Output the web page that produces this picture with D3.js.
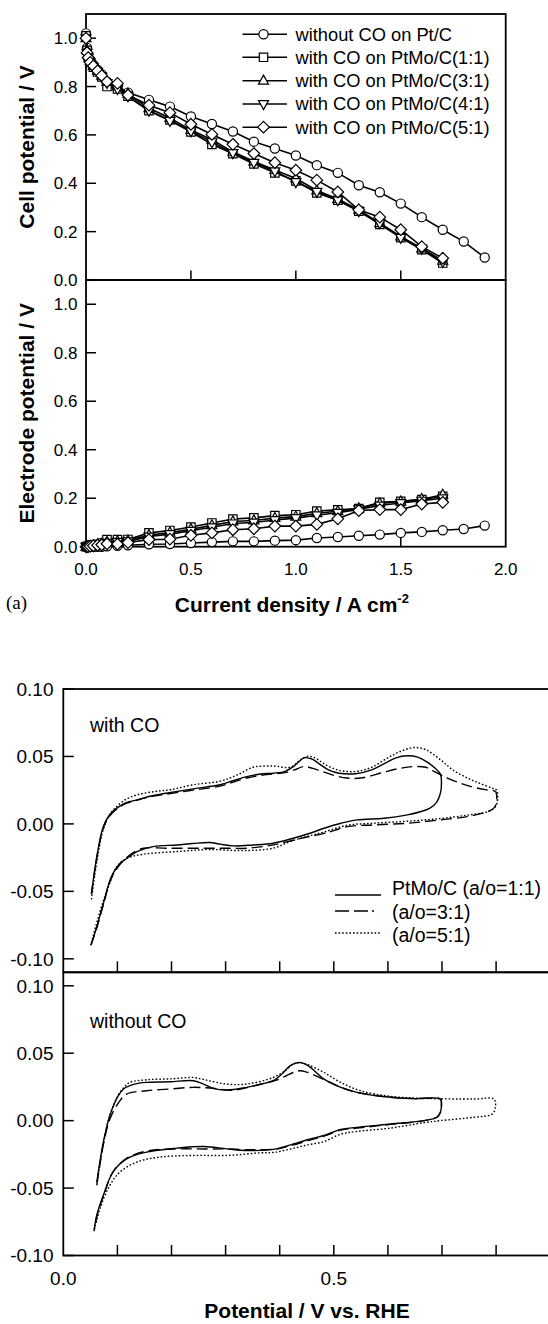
<!DOCTYPE html>
<html>
<head>
<meta charset="utf-8">
<script src="https://cdn.jsdelivr.net/npm/d3@7"></script>
<style>
  html,body{margin:0;padding:0;background:#fff;}
  svg{display:block;}
  text{font-family:"Liberation Sans",Arial,Helvetica,sans-serif;fill:#000;}
</style>
</head>
<body>
<svg id="chart" width="548" height="1324"></svg>
<script>
// ---------------- DATA : panel (a) polarization ----------------
const seriesNames = ["without CO on Pt/C","with CO on PtMo/C(1:1)","with CO on PtMo/C(3:1)","with CO on PtMo/C(4:1)","with CO on PtMo/C(5:1)"];
const seriesMarkers = ["circle","square","triangle","triangleDown","diamond"];
const currentPtC  = [0,0.005,0.01,0.02,0.035,0.055,0.075,0.1,0.15,0.2,0.3,0.4,0.5,0.6,0.7,0.8,0.9,1.0,1.1,1.2,1.3,1.4,1.5,1.6,1.7,1.8,1.9];
const currentPtMo = [0,0.005,0.01,0.02,0.035,0.055,0.075,0.1,0.15,0.2,0.3,0.4,0.5,0.6,0.7,0.8,0.9,1.0,1.1,1.2,1.3,1.4,1.5,1.6,1.7];

const cellPtC = [1.02,0.96,0.93,0.91,0.89,0.87,0.85,0.82,0.80,0.775,0.745,0.717,0.676,0.645,0.614,0.572,0.544,0.515,0.475,0.443,0.392,0.363,0.316,0.26,0.208,0.159,0.093];
const cell11  = [1.01,0.95,0.92,0.90,0.88,0.86,0.84,0.80,0.79,0.76,0.70,0.662,0.612,0.561,0.522,0.48,0.443,0.41,0.36,0.33,0.285,0.23,0.175,0.125,0.07];
const cell31  = [1.0,0.95,0.93,0.905,0.885,0.865,0.845,0.82,0.80,0.77,0.71,0.67,0.62,0.58,0.53,0.49,0.455,0.42,0.37,0.335,0.29,0.235,0.18,0.13,0.08];
const cell41  = [1.0,0.94,0.92,0.90,0.88,0.86,0.84,0.815,0.79,0.76,0.70,0.658,0.615,0.57,0.525,0.485,0.45,0.405,0.365,0.33,0.285,0.235,0.175,0.13,0.075];
const cell51  = [1.0,0.94,0.92,0.90,0.885,0.865,0.845,0.82,0.813,0.765,0.723,0.692,0.644,0.602,0.561,0.523,0.485,0.454,0.413,0.364,0.29,0.26,0.208,0.138,0.09];

const elecPtC = [0,0,0,0,0,0,0,0.002,0.004,0.006,0.01,0.011,0.015,0.019,0.022,0.022,0.025,0.027,0.036,0.04,0.045,0.05,0.057,0.061,0.068,0.073,0.087];
const elec11  = [0,0.001,0.002,0.004,0.007,0.01,0.015,0.029,0.029,0.03,0.057,0.067,0.081,0.098,0.114,0.119,0.128,0.132,0.147,0.152,0.157,0.183,0.187,0.194,0.208];
const elec31  = [0,0,0.001,0.003,0.005,0.008,0.012,0.02,0.022,0.025,0.048,0.058,0.072,0.088,0.104,0.108,0.118,0.124,0.138,0.146,0.158,0.178,0.186,0.196,0.214];
const elec41  = [0,0,0.001,0.002,0.004,0.007,0.01,0.016,0.02,0.022,0.042,0.052,0.066,0.08,0.096,0.1,0.11,0.118,0.13,0.14,0.154,0.17,0.18,0.19,0.2];
const elec51  = [0,0,0,0.002,0.004,0.006,0.008,0.012,0.011,0.017,0.029,0.031,0.047,0.057,0.07,0.074,0.085,0.085,0.092,0.115,0.149,0.153,0.153,0.176,0.183];

const aXTicks = [0,0.5,1.0,1.5,2.0];
const aXTickLabels = ["0.0","0.5","1.0","1.5","2.0"];
const aYTicks = [0,0.2,0.4,0.6,0.8,1.0];
const aYTickLabels = ["0.0","0.2","0.4","0.6","0.8","1.0"];

// ---------------- DATA : panel (b) cyclic voltammograms [V, I] ----------------
const cvLegend = ["PtMo/C (a/o=1:1)","(a/o=3:1)","(a/o=5:1)"];
const cvCO_11 = [[0.052,-0.052],[0.062,-0.024],[0.074,-0.002],[0.086,0.007],[0.099,0.0117],[0.115,0.0155],[0.136,0.0178],[0.16,0.0205],[0.19,0.0227],[0.24,0.026],[0.29,0.029],[0.314,0.032],[0.339,0.035],[0.365,0.037],[0.388,0.0376],[0.41,0.039],[0.427,0.043],[0.445,0.049],[0.46,0.048],[0.475,0.044],[0.49,0.040],[0.51,0.0375],[0.54,0.0372],[0.57,0.040],[0.595,0.045],[0.615,0.049],[0.636,0.0505],[0.655,0.0495],[0.672,0.046],[0.688,0.041],[0.697,0.037],[0.699,0.030],[0.697,0.0227],[0.69,0.016],[0.677,0.0115],[0.66,0.009],[0.636,0.0067],[0.593,0.0042],[0.543,0.003],[0.513,0.0005],[0.482,-0.0032],[0.456,-0.0069],[0.425,-0.0106],[0.388,-0.0143],[0.351,-0.0156],[0.314,-0.0163],[0.29,-0.015],[0.271,-0.0138],[0.24,-0.0145],[0.21,-0.0156],[0.166,-0.0168],[0.136,-0.0205],[0.116,-0.026],[0.105,-0.0291],[0.089,-0.039],[0.074,-0.059],[0.062,-0.076],[0.051,-0.09]];
const cvCO_31 = [[0.052,-0.052],[0.062,-0.025],[0.074,-0.003],[0.086,0.006],[0.099,0.011],[0.115,0.015],[0.136,0.0175],[0.16,0.020],[0.19,0.022],[0.24,0.025],[0.29,0.028],[0.314,0.031],[0.339,0.034],[0.365,0.036],[0.388,0.037],[0.41,0.038],[0.427,0.040],[0.445,0.0425],[0.47,0.040],[0.5,0.036],[0.525,0.034],[0.55,0.034],[0.59,0.038],[0.62,0.041],[0.648,0.0425],[0.67,0.042],[0.685,0.039],[0.71,0.034],[0.735,0.030],[0.76,0.027],[0.785,0.025],[0.799,0.024],[0.801,0.018],[0.798,0.0129],[0.79,0.010],[0.775,0.008],[0.747,0.0054],[0.697,0.003],[0.636,0.0005],[0.574,-0.0007],[0.525,-0.002],[0.5,-0.005],[0.482,-0.007],[0.439,-0.0107],[0.389,-0.0155],[0.339,-0.018],[0.29,-0.018],[0.24,-0.018],[0.19,-0.018],[0.148,-0.018],[0.13,-0.021],[0.117,-0.025],[0.105,-0.030],[0.089,-0.040],[0.074,-0.06],[0.062,-0.077],[0.051,-0.09]];
const cvCO_51 = [[0.052,-0.056],[0.062,-0.028],[0.074,-0.004],[0.086,0.007],[0.099,0.013],[0.115,0.018],[0.136,0.0215],[0.17,0.024],[0.2,0.0255],[0.24,0.029],[0.29,0.0317],[0.32,0.036],[0.351,0.042],[0.388,0.0429],[0.419,0.042],[0.437,0.047],[0.45,0.050],[0.465,0.049],[0.48,0.045],[0.5,0.041],[0.52,0.039],[0.543,0.039],[0.57,0.042],[0.6,0.049],[0.625,0.054],[0.648,0.0566],[0.67,0.055],[0.697,0.0476],[0.72,0.040],[0.747,0.034],[0.77,0.030],[0.793,0.0265],[0.801,0.025],[0.802,0.016],[0.797,0.012],[0.784,0.009],[0.747,0.0065],[0.697,0.004],[0.636,0.002],[0.574,0.0005],[0.525,-0.001],[0.482,-0.006],[0.45,-0.0094],[0.42,-0.013],[0.388,-0.018],[0.333,-0.0198],[0.271,-0.019],[0.21,-0.0205],[0.148,-0.0225],[0.117,-0.0256],[0.099,-0.0318],[0.085,-0.045],[0.07,-0.062],[0.052,-0.088]];

const cvNoCO_11 = [[0.062,-0.0455],[0.074,-0.016],[0.086,0.0037],[0.1017,0.0185],[0.113,0.024],[0.123,0.0259],[0.14,0.0278],[0.154,0.0284],[0.197,0.0288],[0.24,0.0296],[0.259,0.0271],[0.277,0.0239],[0.302,0.0227],[0.339,0.0247],[0.365,0.027],[0.388,0.0296],[0.405,0.035],[0.419,0.0406],[0.437,0.0431],[0.453,0.0406],[0.482,0.0308],[0.513,0.0247],[0.543,0.021],[0.605,0.0173],[0.65,0.0163],[0.697,0.016],[0.699,0.012],[0.697,0.0062],[0.691,0.0025],[0.667,0.0],[0.605,-0.0025],[0.543,-0.005],[0.513,-0.0065],[0.482,-0.011],[0.451,-0.0142],[0.42,-0.018],[0.394,-0.0209],[0.339,-0.0222],[0.302,-0.0209],[0.259,-0.0192],[0.21,-0.0204],[0.154,-0.0233],[0.117,-0.0283],[0.092,-0.038],[0.074,-0.0554],[0.062,-0.070],[0.057,-0.081]];
const cvNoCO_31 = [[0.062,-0.047],[0.074,-0.018],[0.086,0.001],[0.1017,0.013],[0.117,0.0197],[0.154,0.0222],[0.2,0.0235],[0.24,0.0247],[0.277,0.024],[0.314,0.0225],[0.364,0.0271],[0.394,0.030],[0.425,0.0357],[0.437,0.037],[0.45,0.036],[0.482,0.0305],[0.513,0.0247],[0.543,0.021],[0.605,0.0173],[0.65,0.0163],[0.697,0.016],[0.699,0.012],[0.697,0.006],[0.69,0.0025],[0.667,0.0],[0.605,-0.0028],[0.543,-0.0055],[0.513,-0.007],[0.482,-0.0115],[0.451,-0.015],[0.42,-0.0185],[0.394,-0.021],[0.339,-0.0215],[0.302,-0.021],[0.259,-0.021],[0.21,-0.021],[0.154,-0.0226],[0.117,-0.028],[0.092,-0.038],[0.074,-0.056],[0.062,-0.071],[0.057,-0.082]];
const cvNoCO_51 = [[0.062,-0.048],[0.074,-0.017],[0.086,0.004],[0.1017,0.019],[0.113,0.025],[0.123,0.0284],[0.154,0.0303],[0.2,0.031],[0.24,0.032],[0.265,0.030],[0.302,0.0271],[0.339,0.0271],[0.388,0.032],[0.41,0.037],[0.425,0.0419],[0.44,0.043],[0.455,0.041],[0.482,0.0357],[0.513,0.0283],[0.549,0.0222],[0.605,0.018],[0.667,0.0165],[0.759,0.016],[0.796,0.016],[0.799,0.011],[0.793,0.005],[0.759,0.0025],[0.697,0.0],[0.667,-0.0015],[0.605,-0.0055],[0.543,-0.008],[0.513,-0.010],[0.482,-0.0155],[0.451,-0.018],[0.42,-0.021],[0.389,-0.0235],[0.364,-0.0239],[0.302,-0.0258],[0.24,-0.0258],[0.179,-0.027],[0.136,-0.0307],[0.105,-0.038],[0.086,-0.048],[0.068,-0.065],[0.058,-0.080]];

const bXTicks = [0,0.1,0.2,0.3,0.4,0.5,0.6,0.7,0.8,0.9];
const bXLabelTicks = [0,0.5];
const bXTickLabels = ["0.0","0.5"];
const bYTicks = [-0.10,-0.05,0,0.05,0.10];
const bYTickLabels = ["-0.10","-0.05","0.00","0.05","0.10"];
const cvPanelLabels = ["with CO","without CO"];

// ---------------- DRAW ----------------
const svg = d3.select("#chart");

// ===== Panel (a) =====
const aL = 86, aR = 505.7, aT = 14, aM = 280, aB = 546.7;
const xA = d3.scaleLinear().domain([0,2.0]).range([aL,aR]);
const yTop = d3.scaleLinear().domain([0,1.1]).range([aM,aT]);
const yBot = d3.scaleLinear().domain([0,1.1]).range([aB,aM]);

const frameW = 1.8;
function frame(x0,y0,x1,y1){
  svg.append("rect").attr("x",x0).attr("y",y0).attr("width",x1-x0).attr("height",y1-y0)
    .attr("fill","none").attr("stroke","#000").attr("stroke-width",frameW);
}
frame(aL,aT,aR,aM);
frame(aL,aM,aR,aB);

// y ticks (inward) + labels
[yTop,yBot].forEach(ys=>{
  aYTicks.forEach((v,i)=>{
    svg.append("line").attr("x1",aL).attr("x2",aL+10).attr("y1",ys(v)).attr("y2",ys(v))
      .attr("stroke","#000").attr("stroke-width",1.5);
    svg.append("text").attr("x",77.5).attr("y",ys(v)+6).attr("text-anchor","end")
      .attr("font-size",17).text(aYTickLabels[i]);
  });
});
// x ticks on mid line and bottom (upward)
aXTicks.slice(1,4).forEach(v=>{
  svg.append("line").attr("x1",xA(v)).attr("x2",xA(v)).attr("y1",aM).attr("y2",aM-9.5).attr("stroke","#000").attr("stroke-width",1.5);
  svg.append("line").attr("x1",xA(v)).attr("x2",xA(v)).attr("y1",aB).attr("y2",aB-9.5).attr("stroke","#000").attr("stroke-width",1.5);
});
aXTicks.forEach((v,i)=>{
  svg.append("text").attr("x",xA(v)).attr("y",575).attr("text-anchor","middle").attr("font-size",17).text(aXTickLabels[i]);
});

// axis titles
svg.append("text").attr("transform",`translate(34,${(aT+aM)/2}) rotate(-90)`).attr("text-anchor","middle")
  .attr("font-size",21).attr("font-weight","bold").text("Cell potential / V");
svg.append("text").attr("transform",`translate(34,${(aM+aB)/2}) rotate(-90)`).attr("text-anchor","middle")
  .attr("font-size",21).attr("font-weight","bold").text("Electrode potential / V");
const xt = svg.append("text").attr("x",(aL+aR)/2 - 4).attr("y",612).attr("text-anchor","middle")
  .attr("font-size",21).attr("font-weight","bold");
xt.append("tspan").text("Current density / A cm");
xt.append("tspan").attr("font-size",13).attr("dy",-9).text("-2");
svg.append("text").attr("x",6).attr("y",609).attr("font-size",19)
  .style("font-family","'Liberation Serif','Times New Roman',serif").text("(a)");

// marker path
function markerPath(type){
  switch(type){
    case "circle": { const p=d3.path(); p.arc(0,0,4.6,0,2*Math.PI); return p.toString(); }
    case "square": return "M-4.2,-4.2H4.2V4.2H-4.2Z";
    case "triangle": return "M0,-5.6L5,3.4L-5,3.4Z";
    case "triangleDown": return "M0,5.6L5,-3.4L-5,-3.4Z";
    case "diamond": return "M0,-5.8L5.8,0L0,5.8L-5.8,0Z";
  }
}

const cellSeries = [cellPtC,cell11,cell31,cell41,cell51];
const elecSeries = [elecPtC,elec11,elec31,elec41,elec51];
const lineA = d3.line();

function drawSeries(xs, ys, yScale, marker){
  const pts = xs.map((x,i)=>[xA(x), yScale(ys[i])]);
  svg.append("path").attr("d",lineA(pts)).attr("fill","none").attr("stroke","#000").attr("stroke-width",1.6);
  svg.append("g").selectAll("path").data(pts).join("path")
    .attr("transform",d=>`translate(${d[0]},${d[1]})`)
    .attr("d",markerPath(marker)).attr("fill","#fff").attr("stroke","#000").attr("stroke-width",1.2);
}
cellSeries.forEach((s,i)=>drawSeries(i===0?currentPtC:currentPtMo, s, yTop, seriesMarkers[i]));
elecSeries.forEach((s,i)=>drawSeries(i===0?currentPtC:currentPtMo, s, yBot, seriesMarkers[i]));

// legend (a)
const legRows = [34.3,57.3,80.7,104,127.2];
seriesNames.forEach((n,i)=>{
  const y = legRows[i];
  svg.append("line").attr("x1",242.5).attr("x2",287).attr("y1",y).attr("y2",y).attr("stroke","#000").attr("stroke-width",1.6);
  svg.append("path").attr("transform",`translate(263.5,${y})`).attr("d",markerPath(seriesMarkers[i]))
    .attr("fill","#fff").attr("stroke","#000").attr("stroke-width",1.2);
  svg.append("text").attr("x",295.5).attr("y",y+6.3).attr("font-size",18.3).text(n);
});

// ===== Panel (b) =====
const bL = 63.3, bR = 550.2, bT = 689, bM = 972.3, bB = 1255.5;
const xB = d3.scaleLinear().domain([0,0.9]).range([bL,bR]);
const yCO = d3.scaleLinear().domain([-0.11,0.10]).range([bM,bT]);
const yNo = d3.scaleLinear().domain([-0.10,0.11]).range([bB,bM]);

frame(bL,bT,bR,bM);
frame(bL,bM,bR,bB);

[yCO,yNo].forEach(ys=>{
  bYTicks.forEach((v,i)=>{
    svg.append("line").attr("x1",bL).attr("x2",bL+10.5).attr("y1",ys(v)).attr("y2",ys(v))
      .attr("stroke","#000").attr("stroke-width",1.5);
    svg.append("text").attr("x",53.5).attr("y",ys(v)+6.8).attr("text-anchor","end")
      .attr("font-size",19).text(bYTickLabels[i]);
  });
});
bXTicks.slice(1,9).forEach(v=>{
  svg.append("line").attr("x1",xB(v)).attr("x2",xB(v)).attr("y1",bM).attr("y2",bM-11).attr("stroke","#000").attr("stroke-width",1.5);
  svg.append("line").attr("x1",xB(v)).attr("x2",xB(v)).attr("y1",bB).attr("y2",bB-10.5).attr("stroke","#000").attr("stroke-width",1.5);
});
bXLabelTicks.forEach((v,i)=>{
  svg.append("text").attr("x",xB(v)).attr("y",1285).attr("text-anchor","middle").attr("font-size",19).text(bXTickLabels[i]);
});
svg.append("text").attr("x",307).attr("y",1317.5).attr("text-anchor","middle")
  .attr("font-size",21).attr("font-weight","bold").text("Potential / V vs. RHE");

svg.append("text").attr("x",90).attr("y",731.5).attr("font-size",19.5).text(cvPanelLabels[0]);
svg.append("text").attr("x",90).attr("y",1028).attr("font-size",19.5).text(cvPanelLabels[1]);

const styles = [
  {dash:null, w:1.4},
  {dash:"11,5", w:1.4},
  {dash:"1.6,2", w:1.4}
];
function cvLine(data, ys, st){
  const gen = d3.line().x(d=>xB(d[0])).y(d=>ys(d[1])).curve(d3.curveCatmullRom.alpha(0.5));
  const p = svg.append("path").attr("d",gen(data)).attr("fill","none").attr("stroke","#000").attr("stroke-width",st.w);
  if(st.dash) p.attr("stroke-dasharray",st.dash);
}
[cvCO_11,cvCO_31,cvCO_51].forEach((d,i)=>cvLine(d,yCO,styles[i]));
[cvNoCO_11,cvNoCO_31,cvNoCO_51].forEach((d,i)=>cvLine(d,yNo,styles[i]));

// legend (b)
const cvLegRows = [888,911.5,935];
const cvLegLineY = [895,911,933];
cvLegend.forEach((n,i)=>{
  const l = svg.append("line").attr("x1",335).attr("x2",381).attr("y1",cvLegLineY[i]).attr("y2",cvLegLineY[i])
    .attr("stroke","#000").attr("stroke-width",styles[i].w);
  if(styles[i].dash) l.attr("stroke-dasharray", i===1 ? "14,5,14,4,2,20" : styles[i].dash);
  svg.append("text").attr("x",392).attr("y",cvLegRows[i]+7).attr("font-size",19.5).text(n);
});
</script>
</body>
</html>
